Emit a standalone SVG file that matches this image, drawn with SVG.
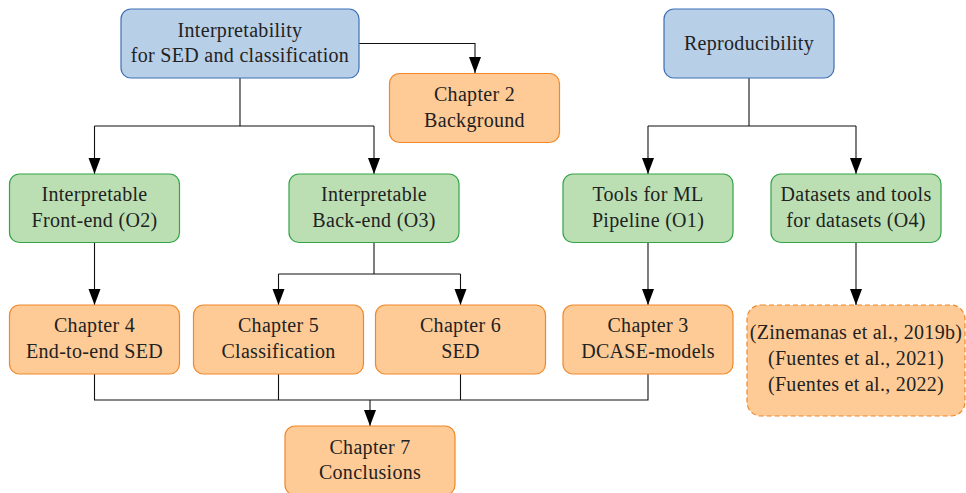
<svg xmlns="http://www.w3.org/2000/svg" width="966" height="493" viewBox="0 0 966 493">
  <style>
    .box { stroke-width: 1.2; }
    .goal { fill: #b8cfe8; stroke: #3f6fb3; }
    .obj { fill: #bbdfb3; stroke: #33a447; }
    .chap { fill: #fecb96; stroke: #f0882a; }
    .dash { stroke-dasharray: 5 3; }
    text { font-size: 20px; fill: #222; text-anchor: middle; letter-spacing: 0.3px; }
    .wire { fill: none; stroke: #111; stroke-width: 1.1; }
  </style>
  <defs>
    <marker id="head" markerUnits="userSpaceOnUse" markerWidth="16" markerHeight="13" refX="16" refY="6.5" orient="auto">
      <path d="M0,0.5 L16,6.5 L0,12.5 Z" fill="#000"/>
    </marker>
  </defs>

  <g id="connectors">
    <path class="wire" d="M359,43.5 H475 V73" marker-end="url(#head)"/>
    <path class="wire" d="M240,78 V126"/>
    <path class="wire" d="M94.5,126 H374"/>
    <path class="wire" d="M94.5,126 V174" marker-end="url(#head)"/>
    <path class="wire" d="M374,126 V174" marker-end="url(#head)"/>
    <path class="wire" d="M749,78 V126"/>
    <path class="wire" d="M648,126 H856"/>
    <path class="wire" d="M648,126 V174" marker-end="url(#head)"/>
    <path class="wire" d="M856,126 V174" marker-end="url(#head)"/>
    <path class="wire" d="M94.5,242.5 V305" marker-end="url(#head)"/>
    <path class="wire" d="M374,242.5 V274"/>
    <path class="wire" d="M278.5,274 H460.5"/>
    <path class="wire" d="M278.5,274 V305" marker-end="url(#head)"/>
    <path class="wire" d="M460.5,274 V305" marker-end="url(#head)"/>
    <path class="wire" d="M648,242.5 V305" marker-end="url(#head)"/>
    <path class="wire" d="M856,242.5 V305" marker-end="url(#head)"/>
    <path class="wire" d="M94.5,374 V400 H648 V374"/>
    <path class="wire" d="M278.5,374 V400"/>
    <path class="wire" d="M460.5,374 V400"/>
    <path class="wire" d="M370,400 V426" marker-end="url(#head)"/>
  </g>

  <g font-family="'Liberation Serif', 'DejaVu Serif', serif">
  <g id="interpretability">
    <rect class="box goal" x="121" y="9" width="238" height="69" rx="10"/>
    <text x="240" y="36.5">Interpretability</text>
    <text x="240" y="62">for SED and classification</text>
  </g>
  <g id="reproducibility">
    <rect class="box goal" x="664" y="9" width="170" height="69" rx="10"/>
    <text x="749" y="49.5">Reproducibility</text>
  </g>
  <g id="chapter2">
    <rect class="box chap" x="389.5" y="73.5" width="170" height="69" rx="10"/>
    <text x="474.5" y="101">Chapter 2</text>
    <text x="474.5" y="126.5">Background</text>
  </g>

  <g id="frontend">
    <rect class="box obj" x="9.5" y="174" width="170" height="68.5" rx="10"/>
    <text x="94.5" y="201">Interpretable</text>
    <text x="94.5" y="226.5">Front-end (O2)</text>
  </g>
  <g id="backend">
    <rect class="box obj" x="289" y="174" width="170" height="68.5" rx="10"/>
    <text x="374" y="201">Interpretable</text>
    <text x="374" y="226.5">Back-end (O3)</text>
  </g>
  <g id="mltools">
    <rect class="box obj" x="563" y="174" width="170" height="68.5" rx="10"/>
    <text x="648" y="201">Tools for ML</text>
    <text x="648" y="226.5">Pipeline (O1)</text>
  </g>
  <g id="datasets">
    <rect class="box obj" x="771" y="174" width="170" height="68.5" rx="10"/>
    <text x="856" y="201">Datasets and tools</text>
    <text x="856" y="226.5">for datasets (O4)</text>
  </g>

  <g id="chapter4">
    <rect class="box chap" x="9.5" y="305" width="170" height="69" rx="10"/>
    <text x="94.5" y="332">Chapter 4</text>
    <text x="94.5" y="357.5">End-to-end SED</text>
  </g>
  <g id="chapter5">
    <rect class="box chap" x="193.5" y="305" width="170" height="69" rx="10"/>
    <text x="278.5" y="332">Chapter 5</text>
    <text x="278.5" y="357.5">Classification</text>
  </g>
  <g id="chapter6">
    <rect class="box chap" x="375.5" y="305" width="170" height="69" rx="10"/>
    <text x="460.5" y="332">Chapter 6</text>
    <text x="460.5" y="357.5">SED</text>
  </g>
  <g id="chapter3">
    <rect class="box chap" x="563" y="305" width="170" height="69" rx="10"/>
    <text x="648" y="332">Chapter 3</text>
    <text x="648" y="357.5">DCASE-models</text>
  </g>
  <g id="publications">
    <rect class="box chap dash" x="747" y="305" width="218" height="111" rx="14"/>
    <text x="856" y="338.5">(Zinemanas et al., 2019b)</text>
    <text x="856" y="364.5">(Fuentes et al., 2021)</text>
    <text x="856" y="390.5">(Fuentes et al., 2022)</text>
  </g>

  <g id="chapter7">
    <rect class="box chap" x="285" y="426" width="170" height="69" rx="10"/>
    <text x="370" y="453.5">Chapter 7</text>
    <text x="370" y="478.5">Conclusions</text>
  </g>
  </g>
</svg>
